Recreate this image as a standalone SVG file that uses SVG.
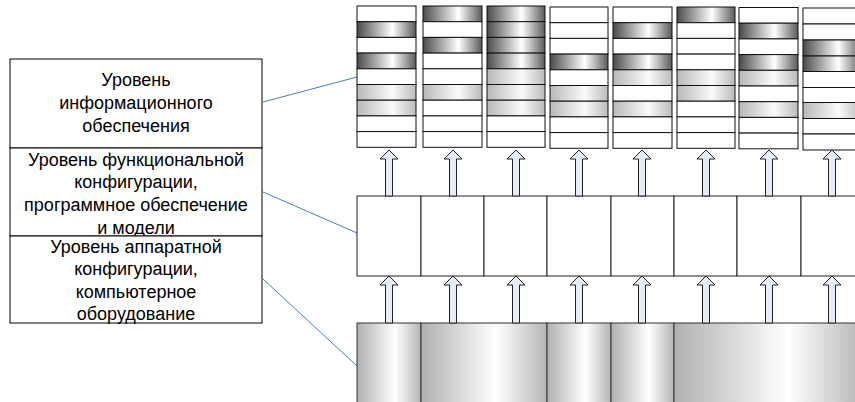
<svg xmlns="http://www.w3.org/2000/svg" width="855" height="402" viewBox="0 0 855 402" xmlns:xlink="http://www.w3.org/1999/xlink">
<style>
.lbl{font-family:"Liberation Sans",Arial,sans-serif;font-size:18px;fill:#000;text-anchor:middle}
.box{fill:#fff;stroke:#000;stroke-width:1}
.w{fill:#fff;stroke:#111;stroke-width:1}
.d{fill:url(#gd);stroke:#111;stroke-width:1}
.l{fill:url(#gl);stroke:#111;stroke-width:1}
.cyl{fill:url(#gc);stroke:#333;stroke-width:1}
.mid{fill:#fff;stroke:#222;stroke-width:1}
.arr{fill:#e6edf8;stroke:#222;stroke-width:1}
.con{stroke:#4a7ebb;stroke-width:1;fill:none}
</style>
<defs>
<linearGradient id="gd" x1="0" y1="0" x2="1" y2="0">
<stop offset="0" stop-color="#4a4a4a"/><stop offset="0.6" stop-color="#fff"/><stop offset="1" stop-color="#5a5a5a"/>
</linearGradient>
<linearGradient id="gl" x1="0" y1="0" x2="1" y2="0">
<stop offset="0" stop-color="#b8b8b8"/><stop offset="0.6" stop-color="#fafafa"/><stop offset="1" stop-color="#bbb"/>
</linearGradient>
<linearGradient id="gc" x1="0" y1="0" x2="1" y2="0">
<stop offset="0" stop-color="#b0b0b0"/><stop offset="0.6" stop-color="#fff"/><stop offset="1" stop-color="#b5b5b5"/>
</linearGradient>
<path id="arrT" class="arr" d="M0,0 L9,9 L3.5,9 L3.5,46 L-3.5,46 L-3.5,9 L-9,9 Z"/>
<path id="arrB" class="arr" d="M0,0 L9,9 L3.5,9 L3.5,47 L-3.5,47 L-3.5,9 L-9,9 Z"/>
</defs>
<rect width="855" height="402" fill="#fff"/>

<g id="legend">
<g id="lvl-info">
<rect class="box" x="10" y="59" width="252" height="89"/>
<text class="lbl" x="136" y="86">Уровень</text>
<text class="lbl" x="136" y="109">информационного</text>
<text class="lbl" x="136" y="132">обеспечения</text>
</g>
<g id="lvl-func">
<rect class="box" x="10" y="148" width="252" height="88"/>
<text class="lbl" x="136" y="166">Уровень функциональной</text>
<text class="lbl" x="136" y="188">конфигурации,</text>
<text class="lbl" x="136" y="211">программное обеспечение</text>
<text class="lbl" x="136" y="234">и модели</text>
</g>
<g id="lvl-hw">
<rect class="box" x="10" y="236" width="252" height="87"/>
<text class="lbl" x="136" y="253">Уровень аппаратной</text>
<text class="lbl" x="136" y="275">конфигурации,</text>
<text class="lbl" x="136" y="298">компьютерное</text>
<text class="lbl" x="136" y="320">оборудование</text>
</g>
</g>

<g id="connectors">
<line class="con" x1="263" y1="102" x2="357" y2="77"/>
<line class="con" x1="263" y1="192" x2="357" y2="233"/>
<line class="con" x1="263" y1="279" x2="357" y2="366"/>
</g>

<g id="stack1">
<rect class="w" x="357" y="6" width="59" height="15.7"/>
<rect class="d" x="357" y="21.7" width="59" height="15.7"/>
<rect class="w" x="357" y="37.4" width="59" height="15.7"/>
<rect class="d" x="357" y="53.1" width="59" height="15.7"/>
<rect class="w" x="357" y="68.8" width="59" height="15.7"/>
<rect class="l" x="357" y="84.5" width="59" height="15.7"/>
<rect class="l" x="357" y="100.2" width="59" height="15.7"/>
<rect class="w" x="357" y="115.9" width="59" height="15.7"/>
<rect class="w" x="357" y="131.6" width="59" height="15.7"/>
</g>
<g id="stack2">
<rect class="d" x="423" y="6" width="59" height="15.7"/>
<rect class="w" x="423" y="21.7" width="59" height="15.7"/>
<rect class="d" x="423" y="37.4" width="59" height="15.7"/>
<rect class="w" x="423" y="53.1" width="59" height="15.7"/>
<rect class="w" x="423" y="68.8" width="59" height="15.7"/>
<rect class="l" x="423" y="84.5" width="59" height="15.7"/>
<rect class="w" x="423" y="100.2" width="59" height="15.7"/>
<rect class="w" x="423" y="115.9" width="59" height="15.7"/>
<rect class="w" x="423" y="131.6" width="59" height="15.7"/>
</g>
<g id="stack3">
<rect class="d" x="487" y="6" width="58" height="15.7"/>
<rect class="d" x="487" y="21.7" width="58" height="15.7"/>
<rect class="d" x="487" y="37.4" width="58" height="15.7"/>
<rect class="d" x="487" y="53.1" width="58" height="15.7"/>
<rect class="l" x="487" y="68.8" width="58" height="15.7"/>
<rect class="l" x="487" y="84.5" width="58" height="15.7"/>
<rect class="l" x="487" y="100.2" width="58" height="15.7"/>
<rect class="w" x="487" y="115.9" width="58" height="15.7"/>
<rect class="w" x="487" y="131.6" width="58" height="15.7"/>
</g>
<g id="stack4">
<rect class="w" x="550" y="7" width="58" height="15.7"/>
<rect class="w" x="550" y="22.7" width="58" height="15.7"/>
<rect class="w" x="550" y="38.4" width="58" height="15.7"/>
<rect class="d" x="550" y="54.1" width="58" height="15.7"/>
<rect class="w" x="550" y="69.8" width="58" height="15.7"/>
<rect class="l" x="550" y="85.5" width="58" height="15.7"/>
<rect class="l" x="550" y="101.2" width="58" height="15.7"/>
<rect class="w" x="550" y="116.9" width="58" height="15.7"/>
<rect class="w" x="550" y="132.6" width="58" height="15.7"/>
</g>
<g id="stack5">
<rect class="w" x="613" y="7" width="59" height="15.7"/>
<rect class="d" x="613" y="22.7" width="59" height="15.7"/>
<rect class="w" x="613" y="38.4" width="59" height="15.7"/>
<rect class="d" x="613" y="54.1" width="59" height="15.7"/>
<rect class="l" x="613" y="69.8" width="59" height="15.7"/>
<rect class="w" x="613" y="85.5" width="59" height="15.7"/>
<rect class="l" x="613" y="101.2" width="59" height="15.7"/>
<rect class="w" x="613" y="116.9" width="59" height="15.7"/>
<rect class="w" x="613" y="132.6" width="59" height="15.7"/>
</g>
<g id="stack6">
<rect class="d" x="677" y="7" width="58" height="15.7"/>
<rect class="w" x="677" y="22.7" width="58" height="15.7"/>
<rect class="w" x="677" y="38.4" width="58" height="15.7"/>
<rect class="w" x="677" y="54.1" width="58" height="15.7"/>
<rect class="l" x="677" y="69.8" width="58" height="15.7"/>
<rect class="l" x="677" y="85.5" width="58" height="15.7"/>
<rect class="w" x="677" y="101.2" width="58" height="15.7"/>
<rect class="w" x="677" y="116.9" width="58" height="15.7"/>
<rect class="w" x="677" y="132.6" width="58" height="15.7"/>
</g>
<g id="stack7">
<rect class="w" x="739" y="7.5" width="59" height="15.7"/>
<rect class="d" x="739" y="23.2" width="59" height="15.7"/>
<rect class="w" x="739" y="38.9" width="59" height="15.7"/>
<rect class="d" x="739" y="54.6" width="59" height="15.7"/>
<rect class="l" x="739" y="70.3" width="59" height="15.7"/>
<rect class="w" x="739" y="86" width="59" height="15.7"/>
<rect class="l" x="739" y="101.7" width="59" height="15.7"/>
<rect class="w" x="739" y="117.4" width="59" height="15.7"/>
<rect class="w" x="739" y="133.1" width="59" height="15.7"/>
</g>
<g id="stack8">
<rect class="w" x="803" y="8" width="59" height="16"/>
<rect class="w" x="803" y="24" width="59" height="16"/>
<rect class="d" x="803" y="40" width="59" height="16"/>
<rect class="d" x="803" y="56" width="59" height="15.5"/>
<rect class="w" x="803" y="71.5" width="59" height="16"/>
<rect class="w" x="803" y="87.5" width="59" height="15"/>
<rect class="l" x="803" y="102.5" width="59" height="16"/>
<rect class="w" x="803" y="118.5" width="59" height="15.5"/>
<rect class="w" x="803" y="134" width="59" height="16"/>
</g>

<g id="software">
<rect class="mid" x="357" y="196" width="64" height="80"/>
<rect class="mid" x="421" y="196" width="63" height="80"/>
<rect class="mid" x="484" y="196" width="63" height="80"/>
<rect class="mid" x="547" y="196" width="64" height="80"/>
<rect class="mid" x="611" y="196" width="63" height="80"/>
<rect class="mid" x="674" y="196" width="63" height="80"/>
<rect class="mid" x="737" y="196" width="64" height="80"/>
<rect class="mid" x="801" y="196" width="63" height="80"/>
</g>

<g id="hardware">
<rect class="cyl" x="357" y="323" width="64" height="85"/>
<rect class="cyl" x="421" y="323" width="126" height="85"/>
<rect class="cyl" x="547" y="323" width="64" height="85"/>
<rect class="cyl" x="611" y="323" width="63" height="85"/>
<rect class="cyl" x="674" y="323" width="190" height="85"/>
</g>

<g id="arrows">
<use xlink:href="#arrT" x="389" y="150"/>
<use xlink:href="#arrT" x="453" y="150"/>
<use xlink:href="#arrT" x="516" y="150"/>
<use xlink:href="#arrT" x="579" y="150"/>
<use xlink:href="#arrT" x="642" y="150"/>
<use xlink:href="#arrT" x="706" y="150"/>
<use xlink:href="#arrT" x="769" y="150"/>
<use xlink:href="#arrT" x="832" y="150"/>
<use xlink:href="#arrB" x="389" y="276"/>
<use xlink:href="#arrB" x="453" y="276"/>
<use xlink:href="#arrB" x="516" y="276"/>
<use xlink:href="#arrB" x="579" y="276"/>
<use xlink:href="#arrB" x="642" y="276"/>
<use xlink:href="#arrB" x="706" y="276"/>
<use xlink:href="#arrB" x="769" y="276"/>
<use xlink:href="#arrB" x="832" y="276"/>
</g>
</svg>
